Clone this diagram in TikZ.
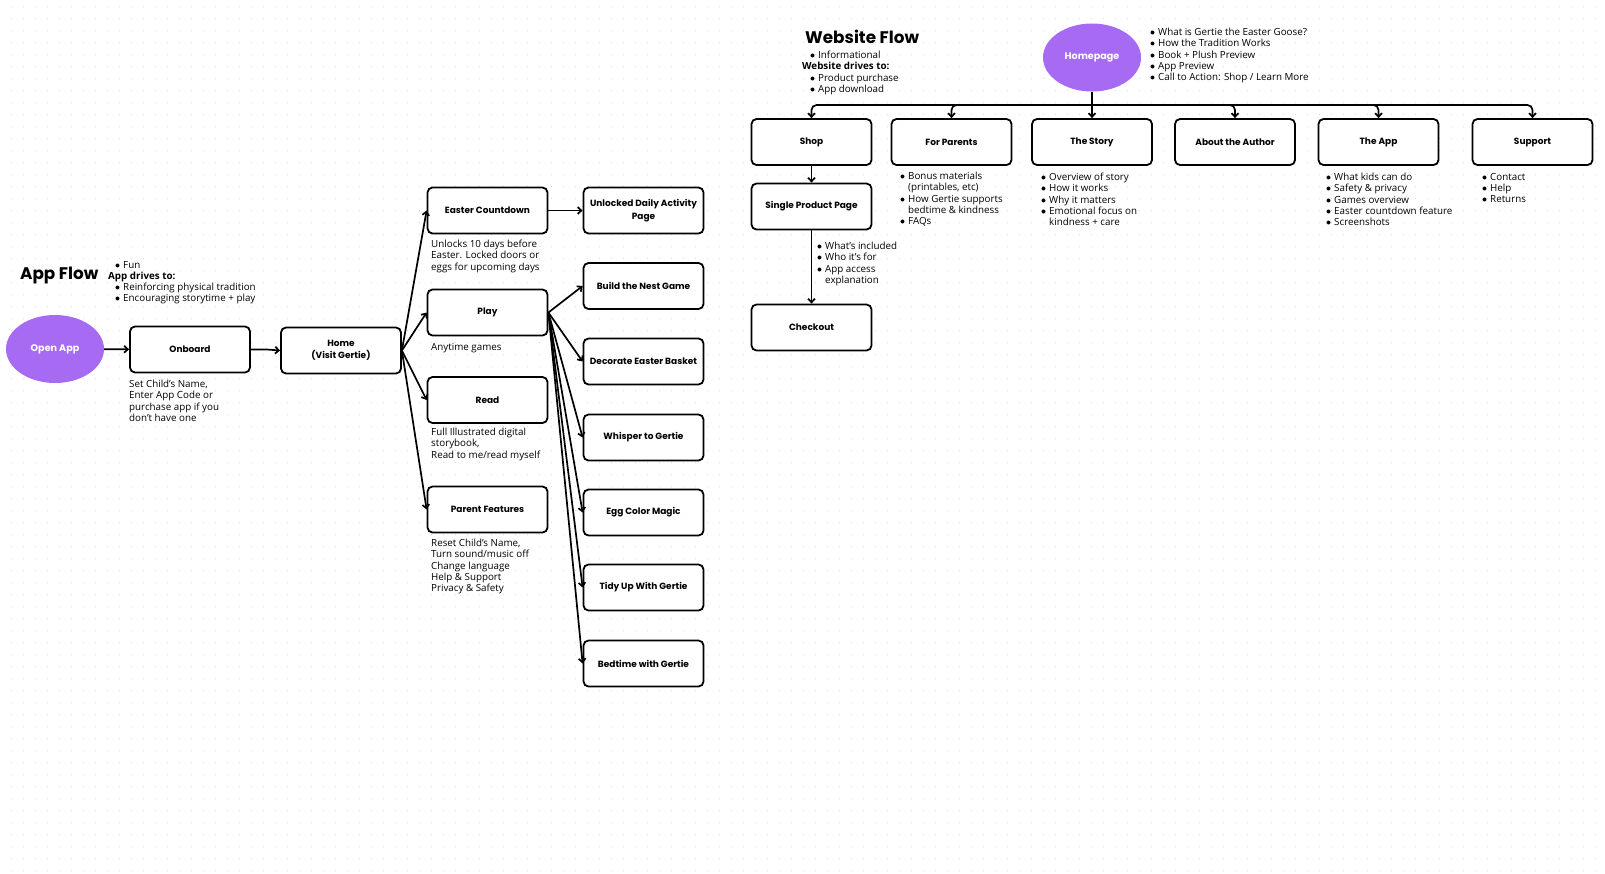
\documentclass[tikz,border=0pt]{standalone}
\usepackage{fontspec}
\setmainfont{Open Sans}
\newfontfamily\headfont{Poppins}
\usetikzlibrary{arrows.meta}
\usetikzlibrary{shapes.geometric}
\definecolor{gertie}{HTML}{A66BF2}
\definecolor{griddot}{HTML}{D9D9D9}
\tikzset{>={Straight Barb[width=2.4mm,length=1.3mm]}}
\tikzset{
  box/.style={draw, line width=1.8pt, rounded corners=5pt, fill=white,
    minimum width=120pt, minimum height=46pt, inner sep=2pt, align=center,
    font=\headfont\bfseries\fontsize{9}{12.5}\selectfont},
  blob/.style={ellipse, fill=gertie, minimum width=98pt, minimum height=68pt,
    text=white, font=\headfont\bfseries\fontsize{9.6}{12}\selectfont},
  note/.style={anchor=north west, inner sep=0pt, align=left,
    font=\fontsize{9.8}{11.2}\selectfont},
  title/.style={anchor=west, inner sep=0pt,
    font=\headfont\bfseries\fontsize{16.8}{19}\selectfont},
  link/.style={->, line width=1.7pt},
}
\newcommand{\bul}{\makebox[8pt][l]{$\bullet$}}
\newcommand{\bulind}{\hspace*{8pt}}

\begin{document}
\begin{tikzpicture}[x=1pt,y=-1pt]
  % Define variables
  \pgfmathsetmacro{\colA}{487.5}  % app menu column
  \pgfmathsetmacro{\colB}{643.5}  % games column
  \pgfmathsetmacro{\rowW}{142}    % website top row
  \pgfmathsetmacro{\busy}{105}    % website split line

  % Background and dot grid
  \useasboundingbox (0,0) rectangle (1605,873);
  \fill[white] (0,0) rectangle (1605,873);
  \foreach \r in {0,...,72}
    \draw[griddot, line width=1.3pt, dash pattern=on 1.3pt off 10.7pt] (11.05,{6.7+12*\r}) -- (1605,{6.7+12*\r});

  % App flow
  \node[title] (apptitle) at (20,276) {App Flow};
  \node[note] (appgoals) at (108,261) {\hspace*{7pt}\bul Fun\\\textbf{App drives to:}\\
    \hspace*{7pt}\bul Reinforcing physical tradition\\\hspace*{7pt}\bul Encouraging storytime + play};

  \node[blob] (openapp) at (55,349) {Open App};
  \node[box] (onboard) at (190,349.5) {Onboard};
  \node[box] (home) at (341,350.5) {Home\\(Visit Gertie)};
  \node[note] (onboardnote) at (129,380) {Set Child’s Name,\\Enter App Code or\\purchase app if you\\don’t have one};

  \node[box] (countdown) at (\colA,210.5) {Easter Countdown};
  \node[box] (play) at (\colA,312.5) {Play};
  \node[box] (read) at (\colA,400) {Read};
  \node[box] (parent) at (\colA,509.5) {Parent Features};
  \node[note] (countdownnote) at (431,240) {Unlocks 10 days before\\Easter. Locked doors or\\eggs for upcoming days};
  \node[note] (playnote) at (431,343) {Anytime games};
  \node[note] (readnote) at (431,428) {Full Illustrated digital\\storybook,\\Read to me/read myself};
  \node[note] (parentnote) at (431,539) {Reset Child’s Name,\\Turn sound/music off\\Change language\\Help \& Support\\Privacy \& Safety};

  \node[box] (unlocked) at (\colB,210.5) {Unlocked Daily Activity\\Page};
  \foreach \name/\txt/\yy in {nest/Build the Nest Game/286, basket/Decorate Easter Basket/361.5,
      whisper/Whisper to Gertie/437.5, eggcolor/Egg Color Magic/512.5,
      tidy/Tidy Up With Gertie/587.5, bedtime/Bedtime with Gertie/663.5}
    \node[box] (\name) at (\colB,\yy) {\txt};

  \draw[link] (openapp) -- (onboard);
  \draw[link] (onboard.east) -- ++(16,0) -- (home.west);
  \foreach \t in {countdown,play,read,parent}
    \draw[link] (home.east) -- (\t.west);
  \draw[link] (countdown) -- (unlocked);
  \foreach \t in {nest,basket,whisper,eggcolor,tidy,bedtime}
    \draw[link] (play.east) -- (\t.west);

  % Website flow
  \node[title] (webtitle) at (805,37) {Website Flow};
  \node[note] (webgoals) at (802,51) {\hspace*{8pt}\bul Informational\\\textbf{Website drives to:}\\
    \hspace*{8pt}\bul Product purchase\\\hspace*{8pt}\bul App download};

  \node[blob] (homepage) at (1092,57.5) {Homepage};
  \node[note] (homenote) at (1150,28) {\bul What is Gertie the Easter Goose?\\\bul How the Tradition Works\\
    \bul Book + Plush Preview\\\bul App Preview\\\bul Call to Action: Shop / Learn More};

  \foreach \name/\txt/\xx in {shop/Shop/811.5, parents/For Parents/951.5, story/The Story/1092,
      author/About the Author/1235, theapp/The App/1378.5, support/Support/1532.5}
    \node[box] (\name) at (\xx,\rowW) {\txt};
  \node[box] (product) at (811.5,206.5) {Single Product Page};
  \node[box] (checkout) at (811.5,327.5) {Checkout};

  \node[note] (productnote) at (817,242) {\bul What’s included\\\bul Who it’s for\\\bul App access\\\bulind explanation};
  \node[note] (parentsnote) at (900,172) {\bul Bonus materials\\\bulind (printables, etc)\\\bul How Gertie supports\\\bulind bedtime \& kindness\\\bul FAQs};
  \node[note] (storynote) at (1041,173) {\bul Overview of story\\\bul How it works\\\bul Why it matters\\\bul Emotional focus on\\\bulind kindness + care};
  \node[note] (appnote) at (1326,173) {\bul What kids can do\\\bul Safety \& privacy\\\bul Games overview\\\bul Easter countdown feature\\\bul Screenshots};
  \node[note] (supportnote) at (1482,173) {\bul Contact\\\bul Help\\\bul Returns};

  \coordinate (bus) at (1092,\busy);
  \draw[line width=1.7pt] (homepage.south) -- (bus);
  \foreach \t in {shop,parents,author,theapp,support}
    \draw[link, rounded corners=5pt] (bus) -| (\t.north);
  \draw[link] (bus) -- (story.north);
  \draw[link] (shop) -- (product);
  \draw[link] (product) -- (checkout);
\end{tikzpicture}
\end{document}
